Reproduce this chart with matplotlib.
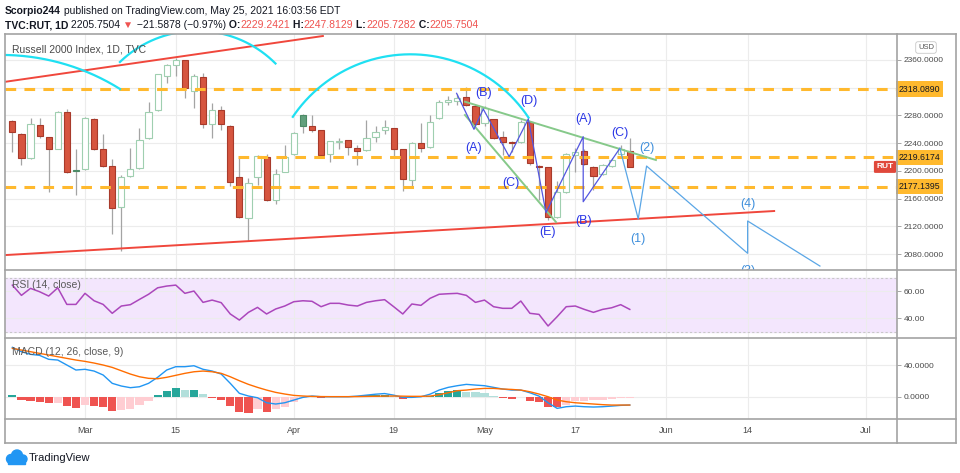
import numpy as np
import matplotlib
matplotlib.use("Agg")
import matplotlib.pyplot as plt
from matplotlib.lines import Line2D
from matplotlib.patches import Circle, Rectangle
from matplotlib.transforms import IdentityTransform

plt.rcParams['font.family'] = ['Liberation Sans', 'DejaVu Sans']

# ---- data (bar index 0 = Mar 1, 2021) ----
bar_idx = np.arange(-8, 61)

opens = [2271.5, 2252.8, 2218.2, 2265.8, 2248.5, 2232.0, 2284.5, 2201.3, 2202.3, 2274.4,
         2231.6, 2207.0, 2148.3, 2192.6, 2203.7, 2247.0, 2287.9, 2337.3, 2352.8, 2360.0,
         2315.3, 2335.9, 2267.2, 2287.9, 2264.8, 2191.6, 2132.4, 2190.7, 2220.5, 2158.0,
         2198.8, 2224.4, 2280.6, 2264.8, 2259.0, 2224.4, 2241.2, 2244.1, 2233.4, 2230.1,
         2249.3, 2258.6, 2261.4, 2231.1, 2186.8, 2240.7, 2234.0, 2275.9, 2299.0, 2300.8,
         2306.2, 2294.3, 2268.7, 2274.4, 2249.3, 2242.1, 2242.1, 2271.0, 2207.0, 2205.2,
         2133.9, 2170.0, 2222.9, 2228.7, 2206.0, 2195.1, 2207.0, 2224.4, 2229.2421]
highs = [2273.4, 2254.7, 2275.9, 2276.7, 2249.6, 2286.4, 2289.3, 2231.6, 2278.2, 2275.6,
         2252.8, 2216.7, 2194.1, 2233.4, 2261.4, 2299.8, 2340.5, 2353.5, 2362.5, 2360.7,
         2339.8, 2340.8, 2298.4, 2293.6, 2265.5, 2218.2, 2190.2, 2222.9, 2223.9, 2202.7,
         2237.3, 2255.4, 2281.4, 2280.6, 2259.7, 2243.8, 2247.0, 2244.8, 2237.3, 2273.4,
         2264.8, 2273.4, 2262.2, 2231.9, 2241.2, 2268.7, 2280.6, 2302.3, 2308.5, 2310.5,
         2321.5, 2296.5, 2293.6, 2275.3, 2257.5, 2243.1, 2273.4, 2272.0, 2209.2, 2206.3,
         2185.4, 2225.1, 2233.0, 2231.6, 2207.0, 2209.9, 2218.6, 2237.3, 2247.8129]
lows = [2226.8, 2208.5, 2217.2, 2247.9, 2169.1, 2230.9, 2196.5, 2165.2, 2201.3, 2230.1,
        2206.3, 2108.9, 2084.4, 2191.6, 2202.7, 2246.0, 2286.8, 2326.4, 2337.3, 2304.7,
        2290.3, 2262.3, 2247.9, 2259.0, 2178.6, 2132.7, 2099.2, 2179.6, 2157.0, 2151.8,
        2197.7, 2223.4, 2254.2, 2256.5, 2221.9, 2213.3, 2231.6, 2222.9, 2208.5, 2229.1,
        2241.2, 2252.8, 2221.9, 2171.0, 2174.9, 2226.8, 2233.0, 2274.9, 2295.1, 2295.1,
        2293.6, 2265.2, 2264.8, 2246.7, 2222.9, 2227.2, 2240.9, 2208.5, 2158.0, 2129.1,
        2132.7, 2168.8, 2198.8, 2208.5, 2172.4, 2194.1, 2205.6, 2221.5, 2205.7282]
closes = [2255.7, 2218.2, 2267.2, 2250.8, 2231.1, 2284.5, 2198.8, 2200.5, 2275.9, 2231.1,
          2207.5, 2146.0, 2191.6, 2202.3, 2244.1, 2285.4, 2339.4, 2352.8, 2360.0, 2319.2,
          2336.9, 2267.2, 2287.9, 2267.2, 2184.4, 2133.9, 2182.9, 2221.9, 2158.0, 2195.5,
          2219.6, 2254.2, 2265.2, 2259.0, 2222.9, 2243.1, 2243.1, 2234.0, 2228.7, 2247.9,
          2256.5, 2262.9, 2231.6, 2187.9, 2239.8, 2232.6, 2271.0, 2299.0, 2302.3, 2304.7,
          2295.1, 2267.7, 2290.7, 2247.9, 2241.2, 2240.9, 2271.0, 2211.8, 2204.9, 2133.9,
          2170.0, 2223.9, 2227.2, 2209.9, 2193.0, 2208.5, 2215.7, 2231.6, 2205.7504]

rsi = [64.4, 56.8, 62.0, 59.5, 56.3, 62.4, 50.1, 50.1, 58.3, 52.8,
       50.1, 43.5, 48.9, 49.9, 53.8, 57.6, 62.4, 63.7, 64.4, 58.3,
       60.0, 51.6, 53.3, 51.4, 43.0, 38.5, 44.2, 47.9, 43.0, 46.7,
       48.9, 52.1, 52.8, 52.4, 48.4, 50.9, 50.9, 49.6, 48.9, 51.6,
       52.8, 53.6, 48.4, 43.0, 50.4, 49.4, 54.6, 57.6, 58.0, 58.3,
       56.8, 51.6, 53.3, 48.4, 47.2, 47.2, 52.6, 43.5, 42.7, 34.1,
       41.0, 48.4, 48.9, 46.4, 44.2, 46.4, 47.6, 49.9, 46.4]

macd = [62.3, 56.8, 53.5, 52.2, 47.2, 46.3, 40.0, 33.7, 34.6, 32.4,
        27.4, 16.9, 13.5, 11.4, 12.6, 16.9, 24.5, 33.7, 37.9, 37.9,
        39.1, 34.6, 32.4, 28.6, 16.9, 4.3, 0.9, -1.3, -7.6, -9.2,
        -7.6, -4.2, -0.8, 0.9, 0.0, 0.0, 0.0, 0.0, 0.8, 2.0,
        3.2, 4.0, 2.0, -0.8, -0.8, 0.0, 3.2, 8.4, 11.8, 13.9,
        15.6, 14.7, 13.9, 11.8, 9.7, 8.4, 8.4, 5.0, 0.8, -7.6,
        -14.7, -12.6, -11.8, -12.6, -13.0, -12.6, -11.8, -10.9, -10.5]
signal = [61.0, 58.9, 56.8, 54.7, 52.6, 50.5, 48.4, 46.3, 44.6, 42.5,
          40.0, 37.0, 32.8, 28.6, 25.2, 23.2, 22.7, 24.5, 27.0, 29.5,
          31.5, 32.4, 31.5, 29.5, 25.2, 20.2, 15.6, 11.8, 8.4, 5.5,
          3.4, 1.7, 0.9, 0.4, 0.2, 0.1, 0.1, 0.1, 0.2, 0.4,
          0.6, 0.8, 0.9, 0.7, 0.5, 0.5, 0.8, 2.5, 5.0, 7.6,
          8.4, 9.7, 10.5, 10.5, 9.7, 9.2, 8.4, 6.3, 3.4, 0.0,
          -4.2, -6.3, -7.6, -8.4, -9.2, -10.0, -10.5, -10.5, -10.5]
hist = [1.7, -4.2, -5.0, -6.3, -8.4, -7.6, -11.8, -13.9, -10.5, -11.8,
        -12.6, -17.7, -16.8, -16.0, -10.5, -5.0, 2.5, 7.6, 10.5, 8.4,
        8.4, 2.9, -1.3, -4.2, -11.8, -18.9, -20.2, -16.0, -18.9, -16.0,
        -12.6, -6.3, -2.1, 0.8, -1.3, 0.4, 0.6, 0.8, 1.2, 1.6,
        2.1, 2.1, 1.0, -3.4, -1.0, -0.5, 0.8, 5.0, 7.1, 8.4,
        6.3, 5.5, 4.2, 1.3, -2.1, -3.4, -0.8, -5.0, -7.1, -12.6,
        -13.5, -10.5, -5.5, -5.0, -4.2, -4.2, -3.0, -2.1, -1.7]

tick_pos = [0, 10, 23, 34, 44, 54, 64, 73, 86]
tick_lab = ['Mar', '15', 'Apr', '19', 'May', '17', 'Jun', '14', 'Jul']
price_ticks = [2080, 2120, 2160, 2200, 2240, 2280, 2320, 2360]

levels = [2318.0890, 2219.6174, 2177.1395]
level_start = [-8.8, 16.85, -8.8]

# drawings (bar index, price)
red_top = ([-8.7, 26.2], [2328.7, 2394.6])
red_bot = ([-8.7, 75.9], [2078.6, 2142.1])
green_up = ([41.85, 62.88], [2299.8, 2215.7])
green_lo = ([41.85, 51.87], [2280.6, 2126.2])
wave_x = [40.93, 42.84, 43.86, 46.72, 48.82, 50.77, 54.87, 54.87, 58.91]
wave_y = [2311.9, 2260.0, 2289.3, 2220.5, 2274.9, 2139.7, 2249.3, 2155.5, 2232.6]
proj_x = [58.91, 60.93, 61.85, 72.98, 72.98, 80.94]
proj_y = [2232.6, 2130.6, 2207.0, 2081.1, 2127.7, 2062.7]
wave_lab = ['(B)', '(A)', '(D)', '(C)', '(E)', '(A)', '(B)', '(C)']
wave_lab_x = [43.94, 42.84, 48.93, 46.88, 50.95, 54.95, 54.95, 58.91]
wave_lab_y = [2312.8, 2233.5, 2301.3, 2182.1, 2112.2, 2274.4, 2128.1, 2254.2]
proj_lab = ['(2)', '(1)', '(4)', '(3)']
proj_lab_x = [61.92, 60.93, 72.98, 72.98]
proj_lab_y = [2232.6, 2101.7, 2152.2, 2056.0]
# cyan arcs: centre x, centre y, radius x, radius y, start deg, end deg
arc_cx = [-9.22, 12.33, 35.84]
arc_cy = [2044.1, 2242.0, 2163.6]
arc_rx = [24.67, 12.21, 15.62]
arc_ry = [323.2, 160.0, 204.6]
arc_t0 = [58, 44.9, 33.6]
arc_t1 = [105, 134.0, 146.0]

# ---- figure ----
W, H = 960, 473
fig = plt.figure(figsize=(9.6, 4.73), dpi=100)


def fx(px):
    return px / W


def fy(py):
    return 1 - py / H


L, R = 5, 897
ax_p = fig.add_axes([fx(L), fy(270), fx(R) - fx(L), fy(34) - fy(270)])
ax_r = fig.add_axes([fx(L), fy(338), fx(R) - fx(L), fy(270) - fy(338)], sharex=ax_p)
ax_m = fig.add_axes([fx(L), fy(419), fx(R) - fx(L), fy(338) - fy(419)], sharex=ax_p)

ax_p.set_xlim(-8.81, 89.43)
ax_p.set_ylim(2057.0, 2397.5)
ax_r.set_ylim(25.2, 75.6)
ax_m.set_ylim(-28.1, 74.1)

for ax in (ax_p, ax_r, ax_m):
    for s in ax.spines.values():
        s.set_visible(False)
    ax.yaxis.tick_right()
    ax.tick_params(axis='y', length=3, width=0.6, color='#999999', labelsize=6,
                   labelcolor='#4a4a4a', pad=2)
    ax.tick_params(axis='x', length=0)
    ax.set_xticks(tick_pos)
    ax.grid(True, color='#ececec', lw=0.8)
    ax.set_axisbelow(True)
plt.setp(ax_p.get_xticklabels(), visible=False)
plt.setp(ax_r.get_xticklabels(), visible=False)
ax_m.set_xticklabels(tick_lab)
ax_m.tick_params(axis='x', labelsize=6.5, labelcolor='#4a4a4a', pad=5)

ax_p.set_yticks(price_ticks)
ax_p.set_yticklabels(['' if t == 2320 else f'{t:.4f}' for t in price_ticks])
ax_r.set_yticks([40, 60])
ax_r.set_yticklabels(['40.00', '60.00'])
ax_m.set_yticks([0, 40])
ax_m.set_yticklabels(['0.0000', '40.0000'])

# ---- candles (hollow style) ----
o = np.array(opens)
c = np.array(closes)
prev = np.concatenate([[o[0]], c[:-1]])
ax_p.vlines(bar_idx, lows, highs, color='#a4a4a4', lw=0.9, zorder=2)
for i in range(len(bar_idx)):
    rising = c[i] >= prev[i]
    hollow = c[i] > o[i]
    lo_b = min(o[i], c[i])
    h_b = max(abs(c[i] - o[i]), 0.9)
    if hollow:
        fc, ec = 'white', ('#9fcfb0' if rising else '#e07a6a')
    else:
        fc, ec = ('#62a07d', '#4c8a66') if rising else ('#d6553f', '#a83a2b')
    ax_p.bar(bar_idx[i], h_b, bottom=lo_b, width=0.68, facecolor=fc, edgecolor=ec,
             lw=0.8, zorder=3)

# ---- level lines ----
for lvl, x0 in zip(levels, level_start):
    ax_p.plot([x0, 89.43], [lvl, lvl], color='#ffb92e', lw=2.2, ls=(0, (3.5, 2.7)), zorder=4)
    ax_p.annotate(f'{lvl:.4f}', xy=(1, lvl), xycoords=ax_p.get_yaxis_transform(),
                  xytext=(1.2, 0), textcoords='offset points', fontsize=6.3, color='#131722',
                  ha='left', va='center',
                  bbox=dict(boxstyle='square,pad=0.35', fc='#ffb92e', ec='none'))

# ---- drawings ----
ax_p.plot(*red_top, color='#f0473c', lw=1.4, zorder=5)
ax_p.plot(*red_bot, color='#f0473c', lw=1.4, zorder=5)
for cx, cy, rx, ry, t0, t1 in zip(arc_cx, arc_cy, arc_rx, arc_ry, arc_t0, arc_t1):
    t = np.radians(np.linspace(t0, t1, 150))
    ax_p.plot(cx + rx * np.cos(t), cy + ry * np.sin(t), color='#1fe0f2', lw=1.6, zorder=5)
ax_p.plot(*green_up, color='#86c98a', lw=1.4, zorder=5)
ax_p.plot(*green_lo, color='#86c98a', lw=1.4, zorder=5)
ax_p.plot(wave_x, wave_y, color='#5356e0', lw=0.9, zorder=6)
ax_p.plot(proj_x, proj_y, color='#5aa6e6', lw=0.9, zorder=6)
for s, xx, yy in zip(wave_lab, wave_lab_x, wave_lab_y):
    ax_p.text(xx, yy, s, color='#2a36e6', fontsize=9, ha='center', va='center',
              clip_on=True, zorder=7)
for s, xx, yy in zip(proj_lab, proj_lab_x, proj_lab_y):
    ax_p.text(xx, yy, s, color='#3e8fdc', fontsize=9, ha='center', va='center',
              clip_on=True, zorder=7)

ax_p.annotate('RUT', xy=(1, closes[-1]), xycoords=ax_p.get_yaxis_transform(),
              xytext=(-2.5, 0), textcoords='offset points', ha='right', va='center',
              fontsize=6, color='white', weight='bold',
              bbox=dict(boxstyle='round,pad=0.3,rounding_size=0.15', fc='#e0483b', ec='none'))

# ---- RSI ----
ax_r.axhspan(30, 70, color='#f3e6fd', zorder=0)
ax_r.axhline(70, color='#c8c8c8', lw=0.8, ls=(0, (2, 2)))
ax_r.axhline(30, color='#c8c8c8', lw=0.8, ls=(0, (2, 2)))
ax_r.plot(bar_idx, rsi, color='#ab47bc', lw=1.1, zorder=3)

# ---- MACD ----
h = np.array(hist)
hprev = np.concatenate([[h[0]], h[:-1]])
hcol = []
for v, pv in zip(h, hprev):
    if v >= 0:
        hcol.append('#26a69a' if v >= pv else '#b2dfdb')
    else:
        hcol.append('#ef5350' if v < pv else '#ffcdd2')
ax_m.bar(bar_idx, h, width=0.9, color=hcol, zorder=2)
ax_m.plot(bar_idx, macd, color='#2196f3', lw=1.0, zorder=3)
ax_m.plot(bar_idx, signal, color='#ff6d00', lw=1.0, zorder=3)

# ---- pane titles ----
fig.text(fx(12), fy(49), 'Russell 2000 Index, 1D, TVC', fontsize=7.5, color='#4a4a4a', va='center')
fig.text(fx(12), fy(285), 'RSI (14, close)', fontsize=7.5, color='#5a5a5a', va='center')
fig.text(fx(12), fy(352), 'MACD (12, 26, close, 9)', fontsize=7.5, color='#5a5a5a', va='center')
fig.text(fx(926), fy(47.5), 'USD', fontsize=5.5, color='#555555', ha='center', va='center',
         bbox=dict(boxstyle='round,pad=0.3', fc='white', ec='#c8c8c8', lw=0.6))

# ---- frame ----
frame_col = '#a3a3a3'
segs = [((5, 34), (956, 34)), ((5, 443), (956, 443)), ((5, 34), (5, 443)),
        ((956, 34), (956, 443)), ((897, 34), (897, 443)),
        ((5, 270), (956, 270)), ((5, 338), (956, 338)), ((5, 419), (956, 419))]
for (x0, y0), (x1, y1) in segs:
    fig.add_artist(Line2D([fx(x0), fx(x1)], [fy(y0), fy(y1)], color=frame_col, lw=1.2))

# ---- header ----
renderer = fig.canvas.get_renderer()
black = '#131722'
red = '#ef5350'


def text_run(x_px, y_px, parts, size):
    x = x_px
    for s, col, wt in parts:
        t = fig.text(fx(x), fy(y_px), s, color=col, weight=wt, fontsize=size,
                     ha='left', va='center')
        x += t.get_window_extent(renderer=renderer).width


text_run(5, 10.5, [('Scorpio244', black, 'bold'),
                   (' published on TradingView.com, May 25, 2021 16:03:56 EDT', black, 'normal')], 7.5)
text_run(5, 25, [('TVC:RUT, 1D', black, 'bold'), (' 2205.7504', black, 'normal'),
                 (' \u25bc', red, 'normal'), (' \u221221.5878 (\u22120.97%)', black, 'normal'),
                 (' O:', black, 'bold'), ('2229.2421', red, 'normal'),
                 (' H:', black, 'bold'), ('2247.8129', red, 'normal'),
                 (' L:', black, 'bold'), ('2205.7282', red, 'normal'),
                 (' C:', black, 'bold'), ('2205.7504', red, 'normal')], 7.5)

# ---- TradingView logo ----
logo = '#2196f3'
for (cx, cy, r) in [(11, 459, 4.5), (17, 455.5, 5.5), (23, 459, 4)]:
    fig.add_artist(Circle((cx, H - cy), r, transform=IdentityTransform(), color=logo))
fig.add_artist(Rectangle((8, H - 463.5), 17, 5, transform=IdentityTransform(), color=logo))
fig.text(fx(29), fy(457.5), 'TradingView', fontsize=8, color=black, va='center')

fig.savefig('out.png', dpi=100)
